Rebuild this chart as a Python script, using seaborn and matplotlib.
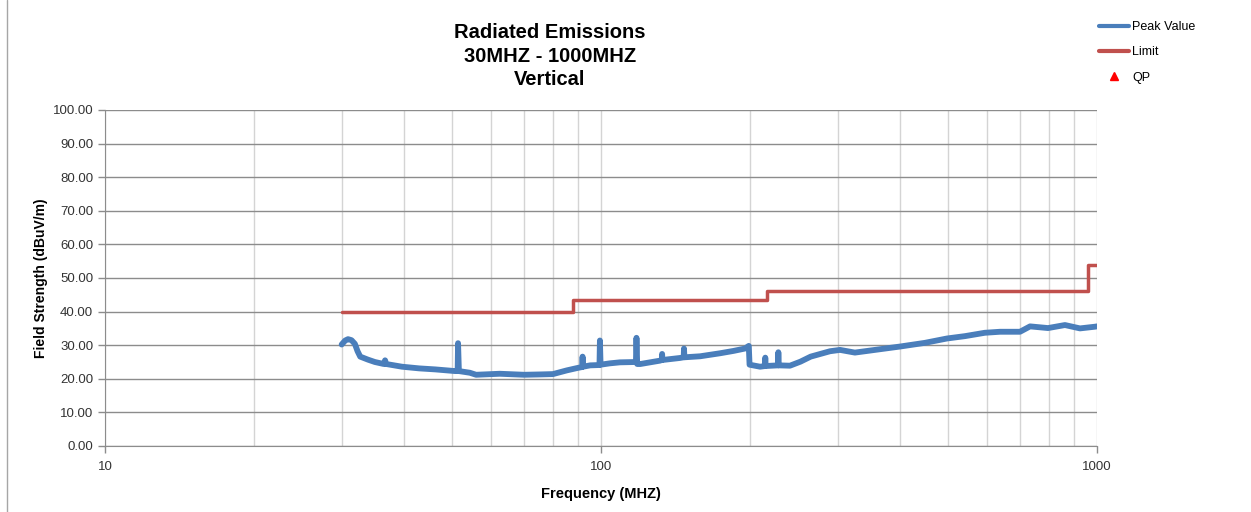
import matplotlib
matplotlib.use('Agg')
import matplotlib.pyplot as plt
import matplotlib.ticker as mticker
from matplotlib.lines import Line2D
import pandas as pd
import seaborn as sns

# peak trace (MHz, dBuV/m)
peak_freq = [30.0, 30.5, 30.9, 31.4, 31.9, 32.3, 32.7, 33.9, 35.0, 36.5, 36.7, 36.9,
             39.7, 43.0, 46.3, 50.8, 51.4, 51.5, 51.7, 54.4, 56.0, 62.5, 70.0, 75.4,
             80.0, 85.3, 89.5, 91.6, 91.8, 92.0, 95.1, 99.3, 99.5, 99.8, 104.2, 109.2,
             117.6, 117.9, 118.3, 120.0, 131.5, 132.6, 132.8, 133.0, 144.3, 146.8, 147.0,
             147.3, 158.4, 173.8, 185.0, 195.0, 198.6, 199.3, 209.3, 214.2, 214.4, 214.6,
             227.6, 227.8, 228.1, 240.4, 252.4, 264.7, 289.5, 303.3, 325.0, 348.5, 400.6,
             449.8, 498.5, 541.9, 594.2, 637.5, 699.4, 732.9, 796.6, 861.8, 924.0, 990.0,
             1000.0]
peak_db = [30.2, 31.4, 31.8, 31.5, 30.4, 28.2, 26.6, 25.7, 25.0, 24.4, 25.5, 24.4,
           23.6, 23.1, 22.8, 22.3, 22.3, 30.6, 22.3, 21.8, 21.2, 21.5, 21.2, 21.3,
           21.4, 22.5, 23.2, 23.5, 26.6, 23.6, 24.0, 24.1, 31.4, 24.2, 24.6, 24.9,
           25.0, 32.2, 24.4, 24.4, 25.4, 25.6, 27.4, 25.6, 26.2, 26.4, 29.0,
           26.4, 26.7, 27.6, 28.3, 29.0, 29.8, 24.2, 23.6, 23.8, 26.3, 23.8,
           24.0, 27.9, 24.0, 23.9, 25.1, 26.6, 28.2, 28.6, 27.8, 28.4, 29.6,
           30.7, 32.0, 32.7, 33.7, 34.0, 34.0, 35.6, 35.1, 36.0, 35.0, 35.5,
           35.6]

# limit line (step starts)
limit_freq = [30, 88, 216, 960, 1000]
limit_db = [40, 43.5, 46, 54, 54]

y_ticks = [0, 10, 20, 30, 40, 50, 60, 70, 80, 90, 100]

peak = pd.DataFrame({'freq': peak_freq, 'db': peak_db})
limit = pd.DataFrame({'freq': limit_freq, 'db': limit_db})

sns.set_style('white')
plt.rcParams['font.family'] = ['Liberation Sans', 'DejaVu Sans']
plt.rcParams['text.color'] = 'black'
plt.rcParams['axes.labelcolor'] = 'black'

fig = plt.figure(figsize=(12.51, 5.12), dpi=100)
ax = fig.add_axes([105/1251, 66/512, 992/1251, 336/512])

sns.lineplot(x='freq', y='db', data=peak, ax=ax, color='#4a7ebb', lw=4.2,
             estimator=None, sort=False, zorder=3, solid_joinstyle='round')
sns.lineplot(x='freq', y='db', data=limit, ax=ax, color='#c0504d', lw=2.5,
             estimator=None, drawstyle='steps-post', zorder=4)

ax.set_xscale('log')
ax.set_xlim(10, 1000)
ax.set_ylim(0, 100)
ax.set_yticks(y_ticks)
ax.yaxis.set_major_formatter(mticker.FormatStrFormatter('%.2f'))
ax.xaxis.set_major_locator(mticker.LogLocator(base=10))
ax.xaxis.set_minor_locator(mticker.LogLocator(base=10, subs=range(2, 10)))
ax.xaxis.set_major_formatter(mticker.FormatStrFormatter('%d'))
ax.xaxis.set_minor_formatter(mticker.NullFormatter())

ax.grid(True, axis='y', color='#8c8c8c', lw=1)
ax.grid(True, axis='x', which='both', color='#d4d4d4', lw=1)
ax.set_axisbelow(True)
for s in ['top', 'right']:
    ax.spines[s].set_visible(False)
for s in ['left', 'bottom']:
    ax.spines[s].set_color('#8c8c8c')
ax.tick_params(axis='both', which='major', direction='out', length=5, width=1,
               color='#8c8c8c', labelsize=9.5, labelcolor='#333333', left=True, bottom=True)
ax.tick_params(axis='x', which='minor', length=0)
ax.tick_params(axis='x', pad=6)

ax.set_xlabel('Frequency (MHZ)', fontsize=10.5, fontweight='bold', labelpad=10)
ax.set_ylabel('Field Strength (dBuV/m)', fontsize=10, fontweight='bold', labelpad=3)

fig.text(550/1251, 1 - 56/512, 'Radiated Emissions\n30MHZ - 1000MHZ\nVertical',
         ha='center', va='center', fontsize=14.5, fontweight='bold', linespacing=1.3)

handles = [Line2D([], [], color='#4a7ebb', lw=3),
           Line2D([], [], color='#c0504d', lw=3),
           Line2D([], [], color='red', marker='^', ls='none', markersize=6)]
fig.legend(handles, ['Peak Value', 'Limit', 'QP'], loc='upper left',
           bbox_to_anchor=(1088/1251, 1 - 10/512), frameon=False, fontsize=9,
           handlelength=2.4, handletextpad=0.25, labelspacing=1.05)

fig.add_artist(Line2D([7/1251, 7/1251], [0, 1], color='#a6a6a6', lw=1,
                      transform=fig.transFigure))

fig.savefig('out.png', dpi=100)
